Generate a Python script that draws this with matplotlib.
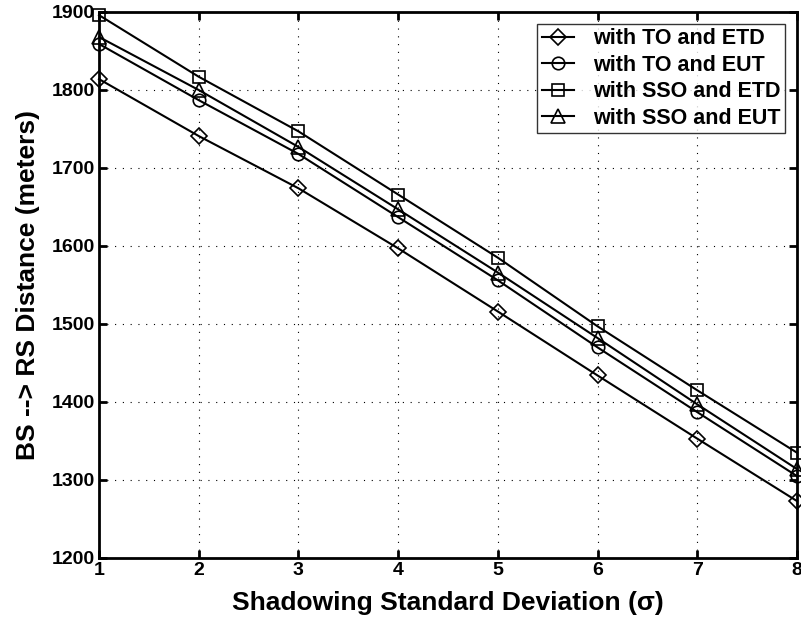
import matplotlib
matplotlib.use("Agg")
import matplotlib.pyplot as plt

plt.rcParams['font.family'] = ['Liberation Sans', 'DejaVu Sans']
plt.rcParams['font.weight'] = 'bold'

sigma = [1, 2, 3, 4, 5, 6, 7, 8]
to_etd = [1814, 1741, 1674, 1597, 1516, 1434, 1353, 1273]
to_eut = [1859, 1787, 1718, 1637, 1556, 1470, 1387, 1305]
sso_etd = [1896, 1817, 1747, 1666, 1585, 1497, 1415, 1335]
sso_eut = [1868, 1800, 1727, 1647, 1566, 1482, 1397, 1314]

W, H = 801, 623
fig = plt.figure(figsize=(W / 100, H / 100), dpi=100)
ax = fig.add_axes([99 / W, 1 - 558 / H, 698 / W, 546 / H])

style = dict(color='black', lw=1.5, markerfacecolor='none',
             markeredgecolor='black', markeredgewidth=1.2, clip_on=False)
ax.plot(sigma, to_etd, marker='D', ms=8, label='with TO and ETD', **style)
ax.plot(sigma, to_eut, marker='o', ms=9, label='with TO and EUT', **style)
ax.plot(sigma, sso_etd, marker='s', ms=8, label='with SSO and ETD', **style)
ax.plot(sigma, sso_eut, marker='^', ms=10, label='with SSO and EUT', **style)

ax.set_xlim(1, 8)
ax.set_ylim(1200, 1900)
ax.set_xticks(sigma)
ax.set_yticks(range(1200, 1901, 100))
ax.grid(True, linestyle=(0, (1, 6)), color='black', lw=0.8)
ax.tick_params(direction='in', length=6, width=2, labelsize=14, pad=3,
               top=True, right=True)
for lab in ax.get_xticklabels() + ax.get_yticklabels():
    lab.set_fontweight('bold')
for sp in ax.spines.values():
    sp.set_linewidth(2)

ax.set_xlabel('Shadowing Standard Deviation (σ)', fontsize=19,
              fontweight='bold')
ax.set_ylabel('BS --> RS Distance (meters)', fontsize=19,
              fontweight='bold')
ax.xaxis.set_label_coords(0.5, -(603 - 558) / 546)
ax.yaxis.set_label_coords(-(99 - 28) / 698, 0.5)
ax.xaxis.label.set_va('center')
ax.yaxis.label.set_va('center')

leg = ax.legend(loc='upper right', fontsize=15.5, frameon=True, fancybox=False,
                edgecolor='black', borderpad=0.2, labelspacing=0.26,
                handlelength=1.5, handletextpad=0.9, borderaxespad=0.55)
leg.get_frame().set_linewidth(1)
for t in leg.get_texts():
    t.set_fontweight('bold')

fig.savefig('out.png', dpi=100)
